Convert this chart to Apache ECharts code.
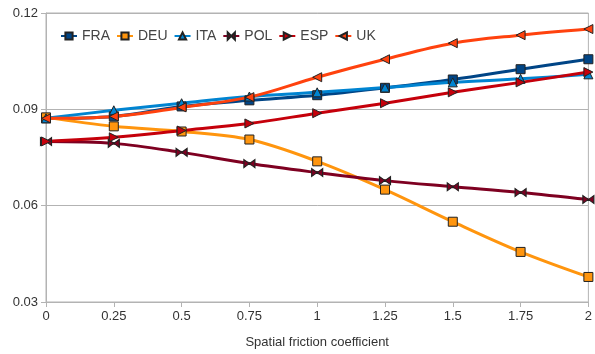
<!DOCTYPE html>
<html><head><meta charset="utf-8">
<script src="https://cdn.jsdelivr.net/npm/echarts@6/dist/echarts.min.js"></script>
<style>html,body{margin:0;padding:0;background:#fff}#c{width:595px;height:354px}</style>
</head><body><div id="c"></div>
<script>
const categories = [0, 0.25, 0.5, 0.75, 1, 1.25, 1.5, 1.75, 2];
const xTickLabels = ['0','0.25','0.5','0.75','1','1.25','1.5','1.75','2'];
const FRA = [0.0872, 0.0878, 0.0909, 0.0928, 0.0944, 0.0967, 0.0993, 0.1025, 0.1056];
const DEU = [0.0875, 0.0847, 0.0831, 0.0806, 0.0738, 0.0650, 0.0550, 0.0456, 0.0378];
const ITA = [0.0872, 0.0897, 0.0919, 0.0940, 0.0953, 0.0968, 0.0984, 0.0995, 0.1009];
const POL = [0.0800, 0.0794, 0.0766, 0.0731, 0.0703, 0.0678, 0.0659, 0.0641, 0.0619];
const ESP = [0.0800, 0.0813, 0.0834, 0.0856, 0.0888, 0.0919, 0.0953, 0.0984, 0.1016];
const UK  = [0.0872, 0.0878, 0.0906, 0.0938, 0.1000, 0.1056, 0.1106, 0.1131, 0.1150];
const yTicks = [0.03, 0.06, 0.09, 0.12];

const bowtie = 'path://M0,0 L10,5 L0,10 Z M20,0 L10,5 L20,10 Z';
const defs = [
  ['FRA', FRA, '#004586', 'rect'],
  ['DEU', DEU, '#ff950e', 'rect'],
  ['ITA', ITA, '#0084d1', 'triangle'],
  ['POL', POL, '#7e0021', bowtie],
  ['ESP', ESP, '#c5000b', 'path://M0,0 L10,5 L0,10 Z'],
  ['UK',  UK,  '#ff420e', 'path://M10,0 L0,5 L10,10 Z']
];
const series = defs.map(([name, vals, color, sym]) => ({
  name, type: 'line', smooth: 0.35,
  data: vals.map((v, i) => [categories[i], v]),
  symbol: sym, symbolSize: sym === bowtie ? [11, 8] : 9,
  showAllSymbol: true,
  lineStyle: { color, width: 3 },
  itemStyle: { color, borderColor: '#222', borderWidth: 1 },
  emphasis: { disabled: true },
  z: 2
}));

const chart = echarts.init(document.getElementById('c'), null, { renderer: 'canvas' });
chart.setOption({
  animation: false,
  textStyle: { fontFamily: 'Liberation Sans, Arial, sans-serif' },
  grid: { left: 46, right: 3, top: 13, bottom: 52, show: true, borderColor: '#b3b3b3', borderWidth: 1 },
  legend: {
    left: 60, top: 29, padding: 0, itemWidth: 16, itemHeight: 9, itemGap: 6,
    textStyle: { fontSize: 14, color: '#444', fontFamily: 'Liberation Sans, Arial, sans-serif' },
    data: defs.map(d => d[0])
  },
  xAxis: {
    type: 'value', min: 0, max: 2, interval: 0.25,
    name: 'Spatial friction coefficient', nameLocation: 'middle', nameGap: 34,
    nameTextStyle: { fontSize: 13, color: '#333' },
    axisLine: { show: true, lineStyle: { color: '#b3b3b3' } },
    axisTick: { show: true, length: 5, lineStyle: { color: '#b3b3b3' } },
    axisLabel: { fontSize: 13, color: '#333', margin: 8, formatter: v => { const i = categories.indexOf(v); return i >= 0 ? xTickLabels[i] : ''; } },
    splitLine: { show: false }
  },
  yAxis: {
    type: 'value', min: 0.03, max: 0.12, interval: 0.03,
    axisLine: { show: true, lineStyle: { color: '#b3b3b3' } },
    axisTick: { show: true, length: 5, lineStyle: { color: '#b3b3b3' } },
    axisLabel: { fontSize: 13, color: '#333', margin: 8, formatter: v => { const t = yTicks.find(t => Math.abs(t - v) < 1e-9); return t !== undefined ? t.toFixed(2) : ''; } },
    splitLine: { show: true, lineStyle: { color: '#b3b3b3', width: 1 } }
  },
  series
});
</script></body></html>
